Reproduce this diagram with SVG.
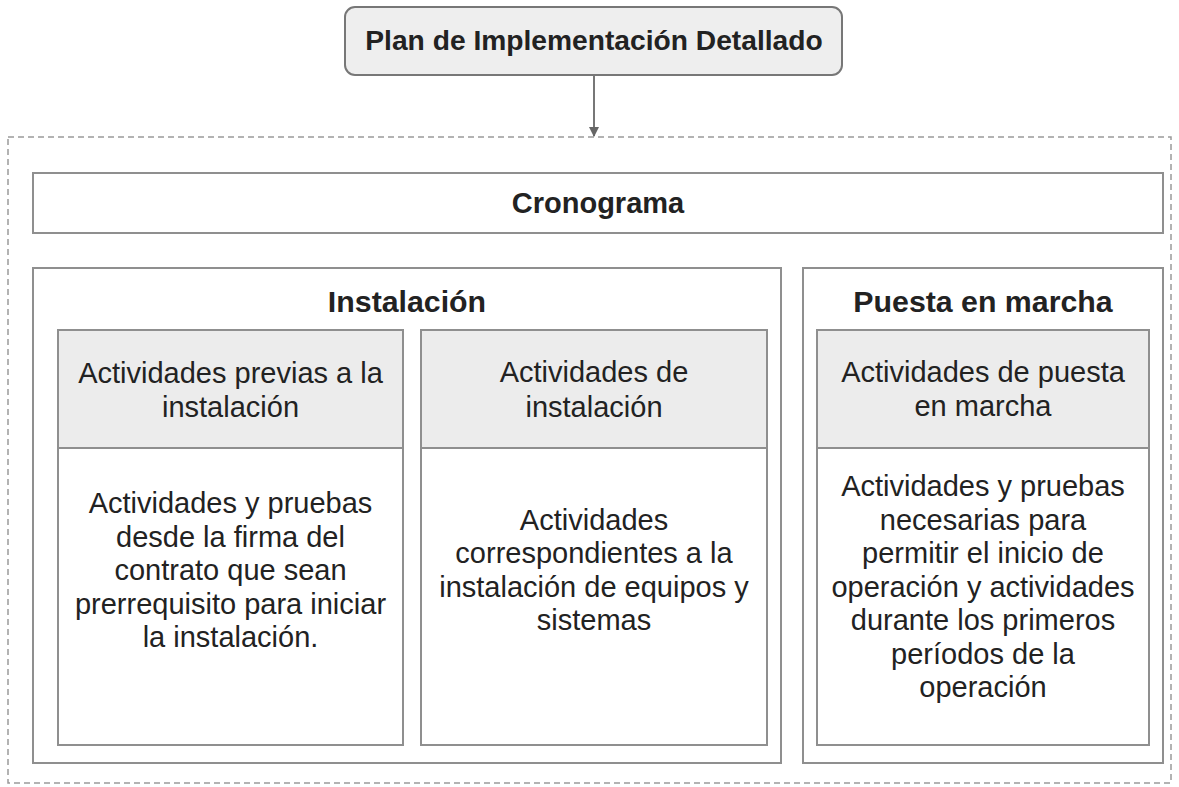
<svg xmlns="http://www.w3.org/2000/svg" width="1179" height="787" viewBox="0 0 1179 787">
<defs>
<marker id="arr" markerWidth="10" markerHeight="10" refX="9" refY="5" orient="auto" markerUnits="userSpaceOnUse">
<path d="M0,0 L10,5 L0,10 Z" fill="#666"/>
</marker>
<style>
.box{fill:#fff;stroke:#8f8f8f;stroke-width:2}
.hdr{fill:#ececec;stroke:#8f8f8f;stroke-width:2}
.t{font-family:"Liberation Sans",Arial,sans-serif;fill:#222;text-anchor:middle}
.b{font-weight:bold}
.body{font-size:29px}
.sec{font-size:30.3px;font-weight:bold}
</style>
</defs>
<rect width="1179" height="787" fill="#fff"/>
<g id="container">
<rect x="8" y="137" width="1163" height="646" fill="none" stroke="#9a9a9a" stroke-width="1.5" stroke-dasharray="6 4"/>
</g>
<g id="title">
<rect x="345" y="7" width="497" height="68" rx="10" ry="10" fill="#eeeeee" stroke="#777" stroke-width="2"/>
<text class="t b" x="594" y="50" font-size="28.2">Plan de Implementación Detallado</text>
</g>
<g id="cronograma">
<rect class="box" x="33" y="173" width="1130" height="60"/>
<text class="t b" x="598" y="213" font-size="29">Cronograma</text>
</g>
<g id="instalacion">
<rect class="box" x="33" y="268" width="748" height="495"/>
<text class="t sec" x="407" y="312">Instalación</text>
</g>
<g id="puesta">
<rect class="box" x="803" y="268" width="360" height="495"/>
<text class="t sec" x="983" y="312">Puesta en marcha</text>
</g>
<g id="previas">
<rect class="box" x="58" y="330" width="345" height="415"/>
<rect class="hdr" x="58" y="330" width="345" height="118"/>
<text class="t body" x="230.5" y="383">Actividades previas a la</text>
<text class="t body" x="230.5" y="417">instalación</text>
<text class="t body" x="230.5" y="513">Actividades y pruebas</text>
<text class="t body" x="230.5" y="546.5">desde la firma del</text>
<text class="t body" x="230.5" y="580">contrato que sean</text>
<text class="t body" x="230.5" y="613.5">prerrequisito para iniciar</text>
<text class="t body" x="230.5" y="647">la instalación.</text>
</g>
<g id="deinstalacion">
<rect class="box" x="421" y="330" width="346" height="415"/>
<rect class="hdr" x="421" y="330" width="346" height="118"/>
<text class="t body" x="594" y="382">Actividades de</text>
<text class="t body" x="594" y="416.5">instalación</text>
<text class="t body" x="594" y="529.5">Actividades</text>
<text class="t body" x="594" y="563">correspondientes a la</text>
<text class="t body" x="594" y="596.5">instalación de equipos y</text>
<text class="t body" x="594" y="630">sistemas</text>
</g>
<g id="actpuesta">
<rect class="box" x="817" y="330" width="332" height="415"/>
<rect class="hdr" x="817" y="330" width="332" height="118"/>
<text class="t body" x="983" y="382">Actividades de puesta</text>
<text class="t body" x="983" y="415.5">en marcha</text>
<text class="t body" x="983" y="496">Actividades y pruebas</text>
<text class="t body" x="983" y="529.5">necesarias para</text>
<text class="t body" x="983" y="563">permitir el inicio de</text>
<text class="t body" x="983" y="596.5">operación y actividades</text>
<text class="t body" x="983" y="630">durante los primeros</text>
<text class="t body" x="983" y="663.5">períodos de la</text>
<text class="t body" x="983" y="697">operación</text>
</g>
<g id="connectors">
<line x1="594" y1="76" x2="594" y2="136" stroke="#777" stroke-width="2" marker-end="url(#arr)"/>
</g>
</svg>
